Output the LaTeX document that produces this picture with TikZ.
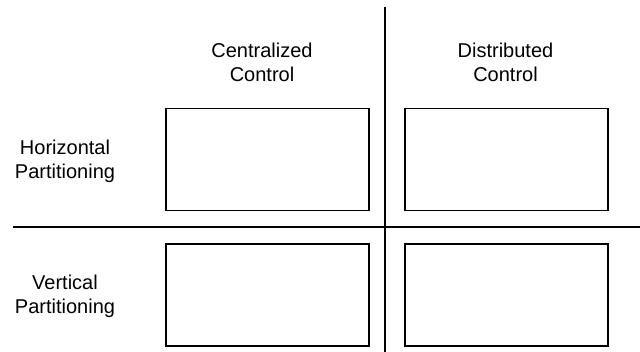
\documentclass[tikz,border=0pt]{standalone}
\usepackage{fontspec}
\setmainfont{Liberation Sans}
\usetikzlibrary{positioning}

\begin{document}
\begin{tikzpicture}[x=0.75pt,y=-0.75pt,
	cell/.style={draw,line width=0.8pt,minimum width=152.25pt,minimum height=76.5pt,inner sep=0pt},
	caption/.style={align=center,inner sep=0pt,font=\fontsize{15}{17.8}\selectfont}]

\useasboundingbox (0,0) rectangle (640,352);

% the four quadrant boxes
\node[cell] (hc) at (267.5,159.5) {};
\node[cell] (hd) at (506.5,159.5) {};
\node[cell] (vc) at (267.5,295) {};
\node[cell] (vd) at (506.5,295) {};

% column headings
\node[caption] (cent) at (262,62) {Centralized\\Control};
\node[caption] (dist) at (505.5,62) {Distributed\\Control};

% row headings
\node[caption] (horz) at (65,161) {Horizontal\\Partitioning};
\node[caption] (vert) at (65,296) {Vertical\\Partitioning};

% dividing lines
\coordinate (top) at (385,7);
\coordinate (bot) at (385,352);
\coordinate (lft) at (13,227);
\coordinate (rgt) at (640,227);

\draw[line width=0.8pt] (top)--(bot);
\draw[line width=0.8pt] (lft)--(rgt);

\end{tikzpicture}
\end{document}
